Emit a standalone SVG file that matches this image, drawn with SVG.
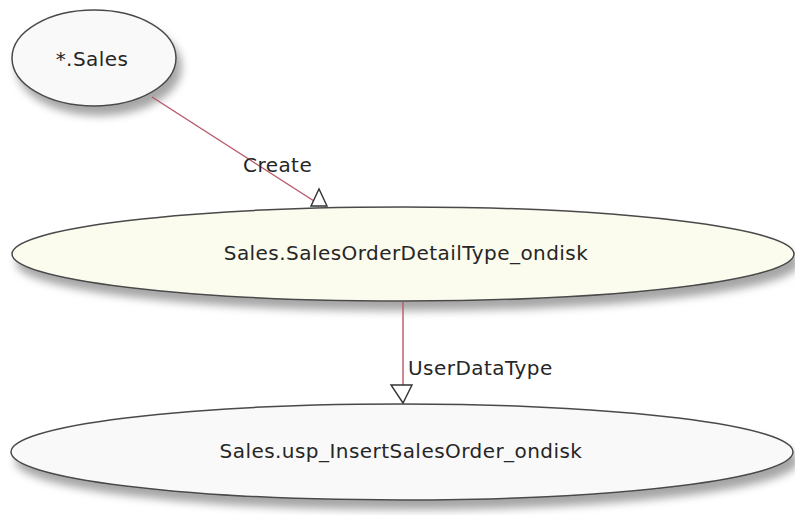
<svg xmlns="http://www.w3.org/2000/svg" width="795" height="515" viewBox="0 0 795 515">
  <defs>
    <filter id="shadow" x="-10%" y="-30%" width="125%" height="170%">
      <feDropShadow dx="5" dy="9" stdDeviation="4" flood-color="#000" flood-opacity="0.35"/>
    </filter>
  </defs>
  <style>
    .node { stroke: #4a4a4a; stroke-width: 1.5; filter: url(#shadow); }
    .plain { fill: #f9f9f9; }
    .hl { fill: #fbfbee; }
    .label { font-family: "DejaVu Sans", "Liberation Sans", sans-serif; font-size: 20px; letter-spacing: 0.45px; fill: #262626; }
    .edge { stroke: #b8576a; stroke-width: 1.4; fill: none; }
    .arrow { fill: #ffffff; stroke: #333333; stroke-width: 1.4; stroke-linejoin: miter; }
  </style>
  <rect width="795" height="515" fill="#ffffff"/>
  <g id="node-sales-schema">
    <ellipse class="node plain" cx="94" cy="58" rx="82" ry="48"/>
    <text class="label" x="92" y="66" text-anchor="middle">*.Sales</text>
  </g>
  <g id="node-detail-type">
    <ellipse class="node hl" cx="403" cy="254" rx="391" ry="47"/>
    <text class="label" x="406" y="260" text-anchor="middle">Sales.SalesOrderDetailType_ondisk</text>
  </g>
  <g id="node-insert-proc">
    <ellipse class="node plain" cx="402" cy="452" rx="391" ry="48"/>
    <text class="label" x="401" y="458" text-anchor="middle">Sales.usp_InsertSalesOrder_ondisk</text>
  </g>
  <g id="connectors">
    <line class="edge" x1="152" y1="97" x2="314" y2="201"/>
    <polygon class="arrow" points="311,206 319,189 327,206"/>
    <text class="label" x="243" y="172">Create</text>
    <line class="edge" x1="403" y1="302" x2="403" y2="386"/>
    <polygon class="arrow" points="391,385 412,385 403,403"/>
    <text class="label" x="408" y="375">UserDataType</text>
  </g>
</svg>
